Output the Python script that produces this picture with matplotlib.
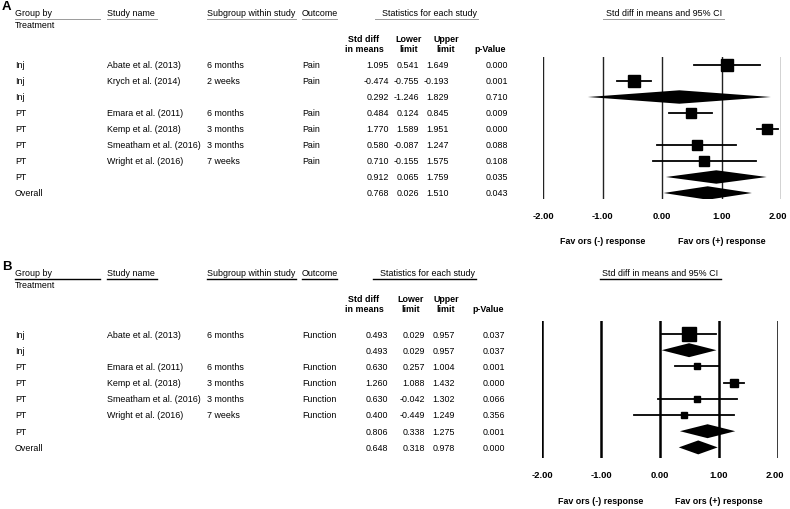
import matplotlib.pyplot as plt
from matplotlib.lines import Line2D
from matplotlib import transforms

plt.rcParams['font.family'] = ['Liberation Sans', 'DejaVu Sans']
plt.rcParams['font.size'] = 6.4

W, H = 790, 510

# Panel A - pain
groups_a = ["Inj", "Inj", "Inj", "PT", "PT", "PT", "PT", "PT", "Overall"]
studies_a = ["Abate et al. (2013)", "Krych et al. (2014)", "", "Emara et al. (2011)",
             "Kemp et al. (2018)", "Smeatham et al. (2016)", "Wright et al. (2016)", "", ""]
subgroups_a = ["6 months", "2 weeks", "", "6 months", "3 months", "3 months", "7 weeks", "", ""]
outcomes_a = ["Pain", "Pain", "", "Pain", "Pain", "Pain", "Pain", "", ""]
smd_a = [1.095, -0.474, 0.292, 0.484, 1.770, 0.580, 0.710, 0.912, 0.768]
lower_a = [0.541, -0.755, -1.246, 0.124, 1.589, -0.087, -0.155, 0.065, 0.026]
upper_a = [1.649, -0.193, 1.829, 0.845, 1.951, 1.247, 1.575, 1.759, 1.510]
pval_a = ["0.000", "0.001", "0.710", "0.009", "0.000", "0.088", "0.108", "0.035", "0.043"]
summary_a = [False, False, True, False, False, False, False, True, True]

# Panel B - function
groups_b = ["Inj", "Inj", "PT", "PT", "PT", "PT", "PT", "Overall"]
studies_b = ["Abate et al. (2013)", "", "Emara et al. (2011)", "Kemp et al. (2018)",
             "Smeatham et al. (2016)", "Wright et al. (2016)", "", ""]
subgroups_b = ["6 months", "", "6 months", "3 months", "3 months", "7 weeks", "", ""]
outcomes_b = ["Function", "", "Function", "Function", "Function", "Function", "", ""]
smd_b = [0.493, 0.493, 0.630, 1.260, 0.630, 0.400, 0.806, 0.648]
lower_b = [0.029, 0.029, 0.257, 1.088, -0.042, -0.449, 0.338, 0.318]
upper_b = [0.957, 0.957, 1.004, 1.432, 1.302, 1.249, 1.275, 0.978]
pval_b = ["0.037", "0.037", "0.001", "0.000", "0.066", "0.356", "0.001", "0.000"]
summary_b = [False, True, False, False, False, False, True, True]

ticks = [-2, -1, 0, 1, 2]
tick_labels = ["-2.00", "-1.00", "0.00", "1.00", "2.00"]

# marker sizes (points) for the study squares
msize_a = [9, 9, 0, 6.5, 6.5, 6.5, 6.5, 0, 0]
msize_b = [9.5, 0, 4.5, 6, 4.5, 4, 0, 0]

fig = plt.figure(figsize=(W / 100, H / 100), dpi=100)


def fx(px):
    return px / W


def fy(py):
    return 1 - py / H


def hline(x0, x1, y, color, lw):
    fig.add_artist(Line2D([fx(x0), fx(x1)], [fy(y), fy(y)], transform=fig.transFigure,
                          color=color, lw=lw))


def draw_panel(label, top, groups, studies, subgroups, outcomes, smd, lower, upper, pval,
               summary, msize, g):
    row0, dy = g["row0"], g["dy"]
    ax = fig.add_axes([fx(g["left"]), fy(g["bottom"]), (g["right"] - g["left"]) / W,
                       (g["bottom"] - g["top"]) / H])
    ax.set_xlim(-2, 2)
    ax.set_ylim((g["bottom"] - row0) / dy, (g["top"] - row0) / dy)
    for s in ax.spines.values():
        s.set_visible(False)
    ax.set_yticks([])
    ax.set_xticks(ticks)
    ax.set_xticklabels(tick_labels, fontweight="bold", fontsize=6.8)
    ax.tick_params(axis="x", length=0, pad=g["pad"])
    # last label sits a little left so it stays inside the figure
    last = ax.get_xticklabels()[-1]
    last.set_transform(last.get_transform() + transforms.ScaledTranslation(-3 / 100, 0,
                                                                           fig.dpi_scale_trans))
    for t in ticks:
        ax.axvline(t, color=g["vcolor"], lw=g["vlw"], zorder=1)

    for i in range(len(smd)):
        if summary[i]:
            h = g["dh"]
            ax.fill([lower[i], smd[i], upper[i], smd[i]], [i, i - h, i, i + h],
                    color="black", lw=0, zorder=3)
        else:
            ax.plot([lower[i], upper[i]], [i, i], color="black", lw=1.3, zorder=2)
            ax.plot(smd[i], i, marker="s", ms=msize[i], color="black", zorder=3)

    # table text, rows aligned to the forest axes
    tr = transforms.blended_transform_factory(fig.transFigure, ax.transData)
    cols = g["cols"]
    for i in range(len(smd)):
        ax.text(fx(15), i, groups[i], transform=tr, va="center", clip_on=False)
        ax.text(fx(107), i, studies[i], transform=tr, va="center", clip_on=False)
        ax.text(fx(207), i, subgroups[i], transform=tr, va="center", clip_on=False)
        ax.text(fx(302), i, outcomes[i], transform=tr, va="center", clip_on=False)
        for x, v in zip(cols, [f"{smd[i]:.3f}", f"{lower[i]:.3f}", f"{upper[i]:.3f}", pval[i]]):
            ax.text(fx(x), i, v, transform=tr, va="center", ha="right", clip_on=False)

    # favours labels
    trf = transforms.blended_transform_factory(ax.transData, fig.transFigure)
    ax.text(-1, fy(g["fav"]), "Fav ors (-) response", transform=trf, ha="center",
            va="center", fontweight="bold", clip_on=False)
    ax.text(1, fy(g["fav"]), "Fav ors (+) response", transform=trf, ha="center",
            va="center", fontweight="bold", clip_on=False)

    # header
    fig.text(fx(2), fy(top - 6), label, fontsize=9.5, fontweight="bold", va="center")
    fig.text(fx(15), fy(top), "Group by", va="center")
    fig.text(fx(15), fy(top + 12), "Treatment", va="center")
    fig.text(fx(107), fy(top), "Study name", va="center")
    fig.text(fx(207), fy(top), "Subgroup within study", va="center")
    fig.text(fx(302), fy(top), "Outcome", va="center")
    fig.text(fx(g["stats_c"]), fy(top), "Statistics for each study", va="center", ha="center")
    fig.text(fx(g["ci_c"]), fy(top), "Std diff in means and 95% CI", va="center", ha="center")
    uy = top + 7
    for x0, x1 in [(15, 100), (107, 157), (207, 296), (302, 337), g["stats_u"], g["ci_u"]]:
        hline(x0, x1, uy, g["ucolor"], g["ulw"])

    hy1, hy2 = top + 27, top + 37
    heads = [("Std diff", "in means"), ("Lower", "limit"), ("Upper", "limit"), ("", "p-Value")]
    for x, (a, b) in zip(g["hcols"], heads):
        fig.text(fx(x), fy(hy1), a, va="center", ha="center", fontweight="bold")
        fig.text(fx(x), fy(hy2), b, va="center", ha="center", fontweight="bold")


geom_a = dict(left=543, right=781, top=58, bottom=200, row0=66, dy=16, pad=9, fav=242,
              vcolor="#222222", vlw=1.0, dh=0.42, cols=[389, 419, 449, 508],
              hcols=[364, 409, 446, 490], stats_c=430, ci_c=664,
              stats_u=(375, 478), ci_u=(603, 724), ucolor="#9a9a9a", ulw=0.7)
geom_b = dict(left=542, right=778, top=322, bottom=459, row0=335, dy=16.2, pad=9, fav=502,
              vcolor="black", vlw=1.8, dh=0.43, cols=[388, 425, 455, 505],
              hcols=[364, 411, 446, 488], stats_c=428, ci_c=660,
              stats_u=(373, 476), ci_u=(600, 721), ucolor="black", ulw=1.0)

draw_panel("A", 13, groups_a, studies_a, subgroups_a, outcomes_a, smd_a, lower_a, upper_a,
           pval_a, summary_a, msize_a, geom_a)
draw_panel("B", 273, groups_b, studies_b, subgroups_b, outcomes_b, smd_b, lower_b, upper_b,
           pval_b, summary_b, msize_b, geom_b)

fig.savefig("out.png", dpi=100)
